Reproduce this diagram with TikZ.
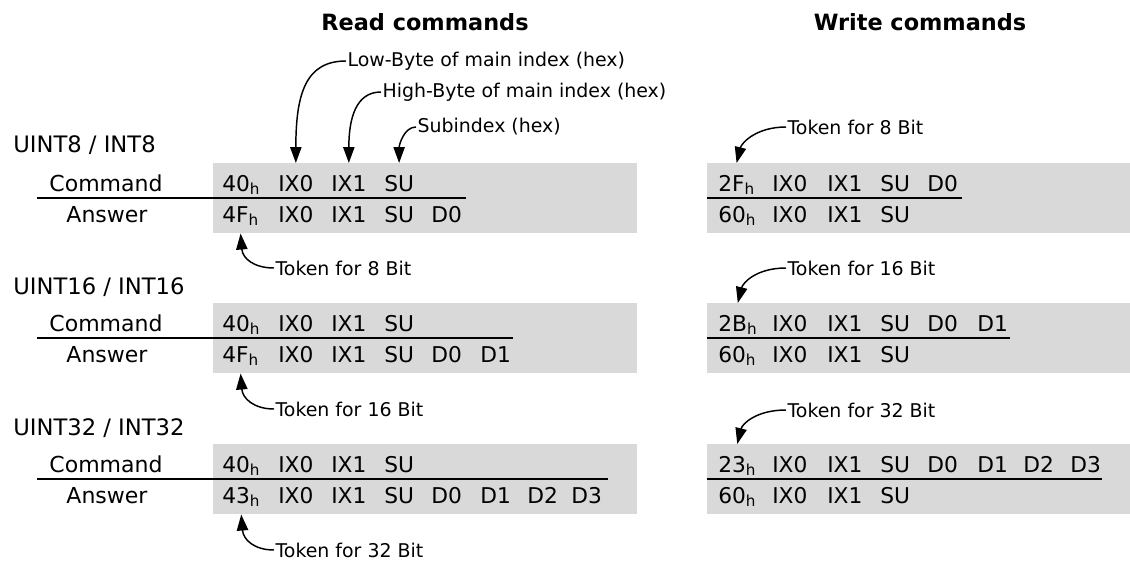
\documentclass[tikz,border=0pt]{standalone}
\usepackage{fontspec}
\setmainfont{DejaVu Sans}
\usetikzlibrary{arrows.meta, calc}
\definecolor{boxgray}{HTML}{D9D9D9}

\newcommand{\hx}[1]{#1\textsubscript{h}}
% one row of bytes: name prefix, baseline, list of x/text
\newcommand{\tokrow}[3]{%
  \foreach \x/\tk [count=\i] in {#3} {\node[tok] (#1-\i) at (\x,#2) {\tk};}}

\tikzset{
  tok/.style={anchor=base west, inner sep=0pt, font=\fontsize{16.3}{19}\selectfont},
  rowlabel/.style={anchor=base, inner sep=0pt, font=\fontsize{16.5}{19}\selectfont},
  grplabel/.style={anchor=west, inner sep=0pt, font=\fontsize{17}{20}\selectfont},
  note/.style={anchor=west, inner sep=1pt, font=\fontsize{14.2}{17}\selectfont},
  header/.style={font=\fontsize{16.8}{20}\selectfont\bfseries},
  bytebox/.style={fill=boxgray, anchor=north west, inner sep=0pt,
                  minimum height=52.5pt},
  rule/.style={line width=1.3pt},
  ptr/.style={-{Triangle[length=12pt,width=8.5pt]}, line width=1.1pt}
}

\begin{document}
\begin{tikzpicture}[x=0.75pt, y=-0.75pt]
  \useasboundingbox (0,0) rectangle (1130,560);

  \node[header] (readhd) at (425,22) {Read commands};
  \node[header] (writehd) at (920,22) {Write commands};

  % grey boxes
  \node[bytebox, minimum width=318pt] (rbox1) at (213,163) {};
  \node[bytebox, minimum width=318pt] (rbox2) at (213,303) {};
  \node[bytebox, minimum width=318pt] (rbox3) at (213,444) {};
  \node[bytebox, minimum width=317.25pt] (wbox1) at (707,163) {};
  \node[bytebox, minimum width=317.25pt] (wbox2) at (707,303) {};
  \node[bytebox, minimum width=317.25pt] (wbox3) at (707,444) {};

  % separator lines
  \draw[rule] (37,198) -- (466,198);
  \draw[rule] (37,338) -- (513,338);
  \draw[rule] (37,479) -- (608,479);
  \draw[rule] (707,198) -- (962,198);
  \draw[rule] (707,338) -- (1010,338);
  \draw[rule] (707,479) -- (1102,479);

  % data types
  \node[grplabel] (grp8) at (13,145) {UINT8 / INT8};
  \node[grplabel] (grp16) at (13,287) {UINT16 / INT16};
  \node[grplabel] (grp32) at (13,428) {UINT32 / INT32};

  \node[rowlabel] (cmd1) at (106,191) {Command};
  \node[rowlabel] (ans1) at (107,222) {Answer};
  \node[rowlabel] (cmd2) at (106,331) {Command};
  \node[rowlabel] (ans2) at (107,362) {Answer};
  \node[rowlabel] (cmd3) at (106,472) {Command};
  \node[rowlabel] (ans3) at (107,503) {Answer};

  % read rows
  \tokrow{r1c}{191}{222/\hx{40}, 278/IX0, 331/IX1, 384/SU}
  \tokrow{r1a}{222}{222/\hx{4F}, 278/IX0, 331/IX1, 384/SU, 431/D0}
  \tokrow{r2c}{331}{222/\hx{40}, 278/IX0, 331/IX1, 384/SU}
  \tokrow{r2a}{362}{222/\hx{4F}, 278/IX0, 331/IX1, 384/SU, 431/D0, 480/D1}
  \tokrow{r3c}{472}{222/\hx{40}, 278/IX0, 331/IX1, 384/SU}
  \tokrow{r3a}{503}{222/\hx{43}, 278/IX0, 331/IX1, 384/SU, 431/D0, 480/D1, 527/D2, 571/D3}

  % write rows
  \tokrow{w1c}{191}{718/\hx{2F}, 772/IX0, 827/IX1, 880/SU, 927/D0}
  \tokrow{w1a}{222}{718/\hx{60}, 772/IX0, 827/IX1, 880/SU}
  \tokrow{w2c}{331}{718/\hx{2B}, 772/IX0, 827/IX1, 880/SU, 927/D0, 977/D1}
  \tokrow{w2a}{362}{718/\hx{60}, 772/IX0, 827/IX1, 880/SU}
  \tokrow{w3c}{472}{718/\hx{23}, 772/IX0, 827/IX1, 880/SU, 927/D0, 977/D1, 1023/D2, 1070/D3}
  \tokrow{w3a}{503}{718/\hx{60}, 772/IX0, 827/IX1, 880/SU}

  % notes
  \node[note] (lowbyte) at (346,61) {Low-Byte of main index (hex)};
  \node[note] (highbyte) at (381,92) {High-Byte of main index (hex)};
  \node[note] (subidx) at (416,127) {Subindex (hex)};
  \node[note] (tokr8) at (274,268) {Token for 8 Bit};
  \node[note] (tokr16) at (274,409) {Token for 16 Bit};
  \node[note] (tokr32) at (274,550) {Token for 32 Bit};
  \node[note] (tokw8) at (786,127) {Token for 8 Bit};
  \node[note] (tokw16) at (786,268) {Token for 16 Bit};
  \node[note] (tokw32) at (786,410) {Token for 32 Bit};

  \draw[ptr] (lowbyte.west) .. controls +(-40,0) and +(0,-70) .. (r1c-2 |- rbox1.north);
  \draw[ptr] (highbyte.west) .. controls +(-25,0) and +(0,-45) .. (r1c-3 |- rbox1.north);
  \draw[ptr] (subidx.west) .. controls +(-12,0) and +(0,-18) .. (r1c-4 |- rbox1.north);

  \draw[ptr] (tokr8.west) .. controls +(-20,0) and +(2,25) .. (r1a-1 |- rbox1.south);
  \draw[ptr] (tokr16.west) .. controls +(-20,0) and +(2,25) .. (r2a-1 |- rbox2.south);
  \draw[ptr] (tokr32.west) .. controls +(-20,0) and +(2,25) .. (r3a-1 |- rbox3.south);

  \draw[ptr] (tokw8.west) .. controls +(-30,0) and +(5,-20) .. (w1c-1 |- wbox1.north);
  \draw[ptr] (tokw16.west) .. controls +(-30,0) and +(5,-20) .. (w2c-1 |- wbox2.north);
  \draw[ptr] (tokw32.west) .. controls +(-30,0) and +(5,-20) .. (w3c-1 |- wbox3.north);
\end{tikzpicture}
\end{document}
